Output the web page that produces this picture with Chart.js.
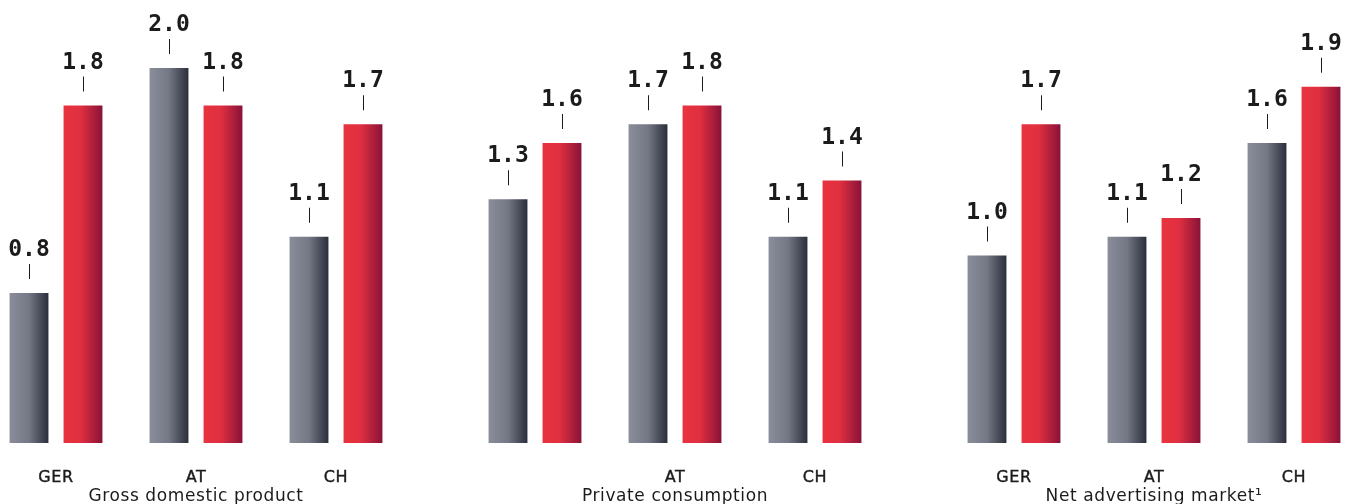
<!DOCTYPE html>
<html>
<head>
<meta charset="utf-8">
<script src="https://cdn.jsdelivr.net/npm/chart.js@4"></script>
<style>
  html, body { margin: 0; padding: 0; background: #ffffff; }
  #wrap { position: relative; width: 1351px; height: 504px; overflow: hidden; }
  #wrap canvas { position: absolute; top: 0; }
</style>
</head>
<body>
<div id="wrap">
  <canvas id="c0" width="420" height="504" style="left:-14px"></canvas>
  <canvas id="c1" width="420" height="504" style="left:465px"></canvas>
  <canvas id="c2" width="420" height="504" style="left:944px"></canvas>
</div>
<script>
// Values (growth in %, prior year vs forecast).
const groupTitles = ['Gross domestic product', 'Private consumption', 'Net advertising market\u00b9'];
const countryLabels = [
  ['GER', 'AT', 'CH'],
  ['', 'AT', 'CH'],
  ['GER', 'AT', 'CH'],
];
const greyValues = [
  [0.8, 2.0, 1.1],
  [1.3, 1.7, 1.1],
  [1.0, 1.1, 1.6],
];
const redValues = [
  [1.8, 1.8, 1.7],
  [1.6, 1.8, 1.4],
  [1.7, 1.2, 1.9],
];

const textColor = '#1b1b1b';
const greyStops = [[0, '#8a8e9a'], [0.5, '#747885'], [1, '#2a2e3a']];
const redStops = [[0, '#e9333f'], [0.45, '#df2f40'], [1, '#891238']];

// Horizontal gradient per bar, based on the bar's own x/width.
const barGradient = (stops, fallback) => (ctx) => {
  const el = ctx.chart.getDatasetMeta(ctx.datasetIndex).data[ctx.dataIndex];
  if (!el || el.x == null || isNaN(el.x) || !el.width) return fallback;
  const g = ctx.chart.ctx.createLinearGradient(el.x - el.width / 2, 0, el.x + el.width / 2, 0);
  stops.forEach(([pos, col]) => g.addColorStop(pos, col));
  return g;
};

// Slightly spaced axis text, like the original typeface.
const spacing = {
  id: 'spacing',
  beforeDraw(chart) {
    chart.ctx.letterSpacing = '0.6px';
  },
};

// Value label with the small leader line above every bar.
const valueLabels = {
  id: 'valueLabels',
  afterDatasetsDraw(chart) {
    const { ctx } = chart;
    ctx.save();
    ctx.letterSpacing = '0px';
    ctx.fillStyle = textColor;
    ctx.strokeStyle = textColor;
    ctx.lineWidth = 1;
    ctx.font = 'bold 23px "DejaVu Sans Mono"';
    ctx.textAlign = 'center';
    ctx.textBaseline = 'alphabetic';
    chart.data.datasets.forEach((ds, di) => {
      chart.getDatasetMeta(di).data.forEach((bar, i) => {
        const x = Math.round(bar.x) + 0.5;
        ctx.beginPath();
        ctx.moveTo(x, bar.y - 29);
        ctx.lineTo(x, bar.y - 14);
        ctx.stroke();
        ctx.fillText(ds.data[i].toFixed(1), bar.x, bar.y - 37);
      });
    });
    ctx.restore();
  },
};

groupTitles.forEach((title, gi) => {
  const chart = new Chart(document.getElementById('c' + gi), {
    type: 'bar',
    data: {
      labels: countryLabels[gi],
      datasets: [
        {
          data: greyValues[gi],
          backgroundColor: barGradient(greyStops, '#6f7380'),
          categoryPercentage: 0.7714,
          barPercentage: 0.72,
        },
        {
          data: redValues[gi],
          backgroundColor: barGradient(redStops, '#d52c40'),
          categoryPercentage: 0.7714,
          barPercentage: 0.72,
        },
      ],
    },
    options: {
      responsive: false,
      animation: false,
      layout: { padding: 0 },
      plugins: { legend: { display: false }, tooltip: { enabled: false } },
      scales: {
        y: { display: false, min: 0, max: 2.3627 },
        x: {
          grid: { display: false, drawTicks: false },
          border: { display: false },
          ticks: {
            color: textColor,
            font: { family: '"DejaVu Sans"', size: 16 },
            padding: 25,
            maxRotation: 0,
            textStrokeColor: textColor,
            textStrokeWidth: 0.4,
          },
          title: {
            display: true,
            text: title,
            color: textColor,
            font: { family: '"DejaVu Sans"', size: 17 },
            padding: { top: 0, bottom: -3 },
          },
          afterFit: (scale) => { scale.height = 61; },
        },
      },
    },
    plugins: [spacing, valueLabels],
  });
  chart.update('none');
});
</script>
</body>
</html>
